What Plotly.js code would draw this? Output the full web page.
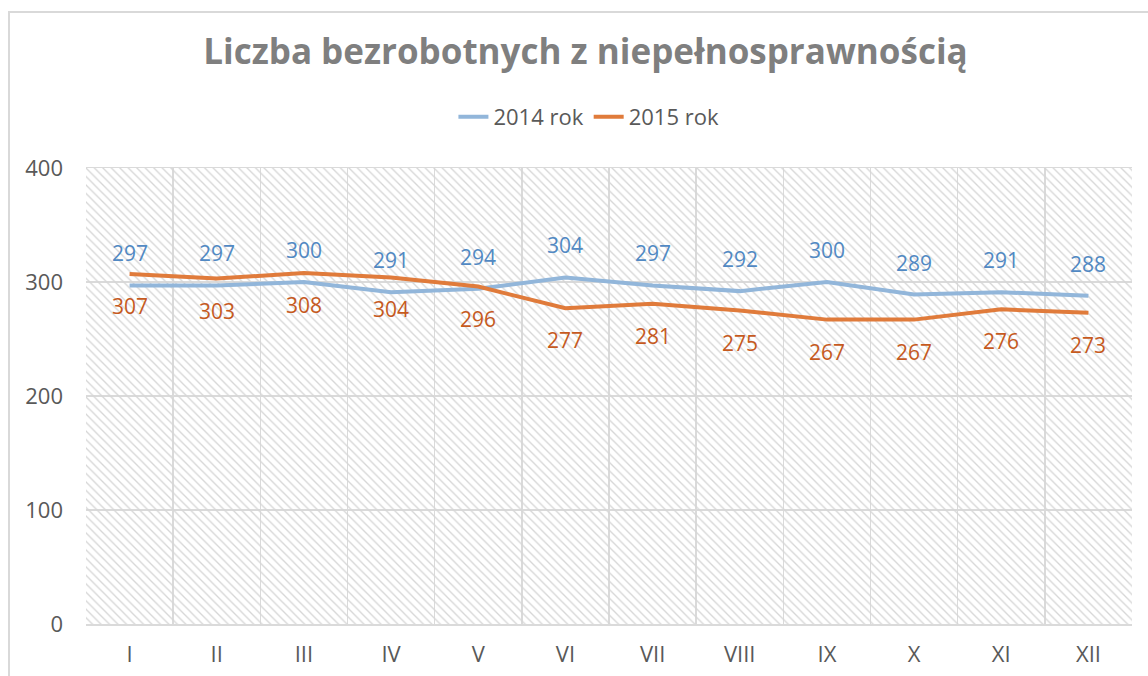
<!DOCTYPE html>
<html>
<head>
<meta charset="utf-8">
<script src="https://cdn.plot.ly/plotly-3.0.1.min.js"></script>
<style>
  html, body { margin: 0; padding: 0; background: #fff; overflow: hidden; }
  #chart { width: 1148px; height: 676px; }
  #frame { position: absolute; left: 8px; top: 11px; width: 2000px; height: 2000px;
           border: 2px solid #d9d9d9; pointer-events: none; box-sizing: border-box; }
</style>
</head>
<body>
<div id="chart"></div>
<div id="frame"></div>
<script>
const months = ["I","II","III","IV","V","VI","VII","VIII","IX","X","XI","XII"];
const values2014 = [297,297,300,291,294,304,297,292,300,289,291,288];
const values2015 = [307,303,308,304,296,277,281,275,267,267,276,273];
const yTicks = [0,100,200,300,400];
const seriesNames = ["2014 rok","2015 rok"];

const yMax = 400;
const FONT = "Open Sans, sans-serif";
const blueLine = "#92b6da", orangeLine = "#e07b3b";
const blueText = "#5189c3", orangeText = "#c65a1e";

// hatched plot-area background: one full-height bar per category, below the lines
const bg = {
  type: "bar", x: months, y: months.map(() => yMax), width: 1,
  marker: {color: "rgba(0,0,0,0)", line: {width: 0},
    pattern: {shape: "\\", fgcolor: "#d6d6d6", bgcolor: "rgba(0,0,0,0)", size: 6, solidity: 0.22, fillmode: "replace"}},
  hoverinfo: "skip", showlegend: false
};

const t2014 = {
  x: months, y: values2014, name: seriesNames[0], type: "scatter", mode: "lines",
  line: {color: blueLine, width: 4}
};
const t2015 = {
  x: months, y: values2015, name: seriesNames[1], type: "scatter", mode: "lines",
  line: {color: orangeLine, width: 4}
};

const annotations = [];
months.forEach((m, i) => {
  annotations.push({x: m, y: values2014[i], xref: "x", yref: "y", text: String(values2014[i]),
    showarrow: false, yshift: 32, font: {family: FONT, size: 21, color: blueText}});
  annotations.push({x: m, y: values2015[i], xref: "x", yref: "y", text: String(values2015[i]),
    showarrow: false, yshift: -32, font: {family: FONT, size: 21, color: orangeText}});
});

const layout = {
  width: 1148, height: 676,
  margin: {l: 86, r: 16, t: 168, b: 52},
  paper_bgcolor: "#fff", plot_bgcolor: "#fff",
  bargap: 0,
  title: {text: "Liczba bezrobotnych z niepełnosprawnością", xref: "container", x: 0.51,
    yref: "container", y: 1 - 52/676, yanchor: "middle", xanchor: "center",
    font: {family: FONT, size: 35, color: "#7f7f7f", weight: "bold"}},
  showlegend: true,
  legend: {orientation: "h", xref: "container", x: 0.513, xanchor: "center",
    yref: "container", y: 1 - 117/676, yanchor: "middle",
    font: {family: FONT, size: 22, color: "#595959"}, traceorder: "normal"},
  xaxis: {type: "category", tickson: "boundaries", showgrid: true, gridcolor: "#dadada", gridwidth: 1.5,
    showline: true, linecolor: "#dadada", linewidth: 1.5, mirror: true, ticks: "",
    tickfont: {family: FONT, size: 22, color: "#595959"}, ticklabelstandoff: 10,
    range: [-0.5, months.length - 0.5], zeroline: false},
  yaxis: {range: [0, yMax], tickvals: yTicks, showgrid: true, gridcolor: "#dadada", gridwidth: 1.5,
    zeroline: false, showline: false, ticks: "",
    tickfont: {family: FONT, size: 22, color: "#595959"}, ticklabelstandoff: 22},
  annotations: annotations
};

Plotly.newPlot("chart", [bg, t2014, t2015], layout, {displayModeBar: false, staticPlot: true});
</script>
</body>
</html>
